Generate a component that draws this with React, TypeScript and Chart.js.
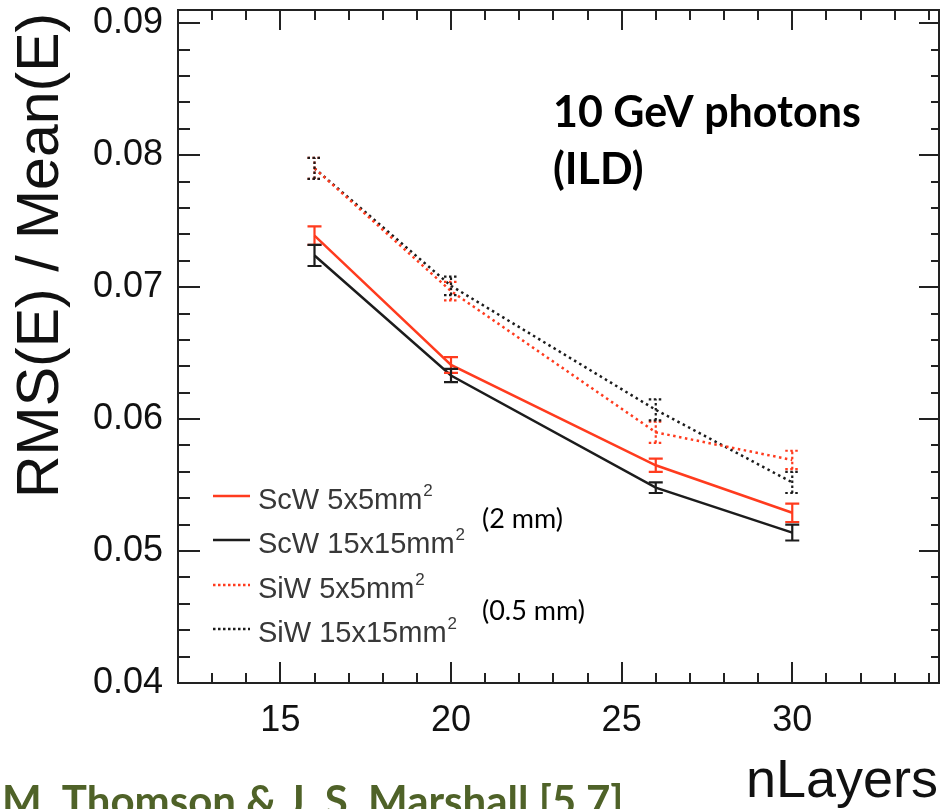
import React, { useEffect, useRef } from 'react';
import { Chart, registerables } from 'chart.js';

Chart.register(...registerables);

// ---------- data ----------
const nLayers = [16, 20, 26, 30];

const scw5 = [0.0739, 0.0641, 0.0565, 0.0529];
const scw5Err = [0.0007, 0.0006, 0.0005, 0.0007];

const scw15 = [0.0724, 0.0633, 0.0548, 0.0514];
const scw15Err = [0.0008, 0.0005, 0.0004, 0.0006];

const siw5 = [0.079, 0.0697, 0.059, 0.0569];
const siw5Err = [0.0008, 0.0007, 0.0008, 0.0007];

const siw15 = [0.079, 0.0701, 0.0607, 0.0552];
const siw15Err = [0.0008, 0.0007, 0.0008, 0.0008];

const seriesLabels = ['ScW 5x5mm²', 'ScW 15x15mm²', 'SiW 5x5mm²', 'SiW 15x15mm²'];

const xTicks = [15, 20, 25, 30];
const yTicks = [0.04, 0.05, 0.06, 0.07, 0.08, 0.09];
const xRange = [12, 34.3];
const yRange = [0.04, 0.091];
const xMinorStep = 1;
const yMinorStep = 0.002;

const yTitle = 'RMS(E) / Mean(E)';
const xTitle = 'nLayers';
const noteLines = ['10 GeV photons', '(ILD)'];
const thicknessNotes = ['(2 mm)', '(0.5 mm)'];
const credit = 'M. Thomson & J. S. Marshall [5,7]';

const RED = '#ff3b1e';
const BLACK = '#1c1c1c';
const AXIS = '#222222';

const makeData = (vals: number[]) => nLayers.map((x, i) => ({ x, y: vals[i] }));

const annotate = {
  id: 'annotate',
  afterDatasetsDraw(chart: any) {
    const ctx = chart.ctx;
    const xs = chart.scales.x;
    const ys = chart.scales.y;
    // error bars
    chart.data.datasets.forEach((ds: any) => {
      ctx.save();
      ctx.strokeStyle = ds.borderColor;
      ctx.lineWidth = ds.borderDash.length ? 2.2 : 2.2;
      ctx.setLineDash(ds.borderDash.length ? [2.5, 2.5] : []);
      ds.data.forEach((p: any, i: number) => {
        const px = xs.getPixelForValue(p.x);
        const y1 = ys.getPixelForValue(p.y - ds.err[i]);
        const y2 = ys.getPixelForValue(p.y + ds.err[i]);
        ctx.beginPath();
        ctx.moveTo(px, y1);
        ctx.lineTo(px, y2);
        ctx.moveTo(px - 7, y1);
        ctx.lineTo(px + 7, y1);
        ctx.moveTo(px - 7, y2);
        ctx.lineTo(px + 7, y2);
        ctx.stroke();
      });
      ctx.restore();
    });
  },
  afterDraw(chart: any) {
    const ctx = chart.ctx;
    const area = chart.chartArea;
    const xs = chart.scales.x;
    const ys = chart.scales.y;
    ctx.save();
    // frame
    ctx.strokeStyle = AXIS;
    ctx.lineWidth = 2;
    ctx.setLineDash([]);
    ctx.strokeRect(area.left, area.top, area.right - area.left, area.bottom - area.top);

    // x ticks (bottom and top, inside)
    ctx.beginPath();
    for (let v = Math.ceil(xs.min); v <= xs.max + 1e-9; v += xMinorStep) {
      const px = Math.round(xs.getPixelForValue(v));
      const major = xTicks.includes(v);
      ctx.moveTo(px, area.bottom);
      ctx.lineTo(px, area.bottom - (major ? 21 : 10));
      ctx.moveTo(px, area.top);
      ctx.lineTo(px, area.top + (major ? 20 : 10));
    }
    // y ticks (left and right, inside)
    const nMinor = Math.round((ys.max - ys.min) / yMinorStep);
    for (let k = 0; k <= nMinor; k++) {
      const v = ys.min + k * yMinorStep;
      if (v > ys.max + 1e-9) break;
      const py = Math.round(ys.getPixelForValue(v));
      const major = yTicks.some((t) => Math.abs(t - v) < 1e-7);
      ctx.moveTo(area.left, py);
      ctx.lineTo(area.left + (major ? 22 : 12), py);
      ctx.moveTo(area.right, py);
      ctx.lineTo(area.right - (major ? 20 : 8), py);
    }
    ctx.stroke();

    // axis titles
    ctx.fillStyle = '#111';
    ctx.font = '59px "Liberation Sans", Arial, sans-serif';
    ctx.textAlign = 'left';
    ctx.textBaseline = 'alphabetic';
    ctx.save();
    ctx.translate(58, 498);
    ctx.rotate(-Math.PI / 2);
    ctx.fillText(yTitle, 0, 0);
    ctx.restore();

    ctx.font = '54px "Liberation Sans", Arial, sans-serif';
    ctx.textAlign = 'right';
    ctx.fillText(xTitle, 938, 797);

    // legend
    const rowBase = [509, 553, 598, 642];
    chart.data.datasets.forEach((ds: any, i: number) => {
      const b = rowBase[i];
      ctx.strokeStyle = ds.borderColor;
      ctx.lineWidth = 2.5;
      ctx.setLineDash(ds.borderDash.length ? [2.5, 2.5] : []);
      ctx.beginPath();
      ctx.moveTo(213, b - 13);
      ctx.lineTo(250, b - 13);
      ctx.stroke();
      ctx.setLineDash([]);
      const label: string = ds.label;
      const main = label.replace('²', '');
      ctx.fillStyle = '#383838';
      ctx.textAlign = 'left';
      ctx.font = '29px "Liberation Sans", Arial, sans-serif';
      ctx.fillText(main, 258, b);
      const w = ctx.measureText(main).width;
      ctx.font = '17px "Liberation Sans", Arial, sans-serif';
      ctx.fillText('2', 258 + w + 1, b - 13);
    });

    // notes
    ctx.fillStyle = '#000';
    ctx.textAlign = 'left';
    ctx.font = 'bold 43px Lato, "Open Sans", sans-serif';
    ctx.fillText(noteLines[0], 553, 127);
    ctx.fillText(noteLines[1], 553, 184);

    ctx.font = '27px Lato, "Open Sans", sans-serif';
    ctx.fillText(thicknessNotes[0], 482, 528);
    ctx.fillText(thicknessNotes[1], 482, 620);

    ctx.fillStyle = '#4f6228';
    ctx.font = 'bold 42px Lato, "Open Sans", sans-serif';
    ctx.fillText(credit, 2, 816);
    ctx.restore();
  },
};

export default function App() {
  const ref = useRef<HTMLCanvasElement | null>(null);
  useEffect(() => {
    if (!ref.current) return;
    const mk = (i: number, vals: number[], err: number[], color: string, dotted: boolean) => ({
      label: seriesLabels[i],
      data: makeData(vals),
      err,
      borderColor: color,
      backgroundColor: color,
      borderWidth: dotted ? 2.5 : 2.5,
      borderDash: dotted ? [2.5, 3.5] : [],
      pointRadius: 0,
      tension: 0,
      fill: false,
    });
    const chart = new Chart(ref.current, {
      type: 'line',
      data: {
        datasets: [
          mk(0, scw5, scw5Err, RED, false),
          mk(1, scw15, scw15Err, BLACK, false),
          mk(2, siw5, siw5Err, RED, true),
          mk(3, siw15, siw15Err, BLACK, true),
        ] as any,
      },
      options: {
        animation: false,
        responsive: false,
        maintainAspectRatio: false,
        layout: { padding: { left: 0, top: 10, right: 3, bottom: 0 } },
        plugins: { legend: { display: false }, tooltip: { enabled: false } },
        scales: {
          x: {
            type: 'linear',
            min: xRange[0],
            max: xRange[1],
            grid: { display: false, drawTicks: false },
            border: { display: false },
            afterBuildTicks: (s: any) => {
              s.ticks = xTicks.map((v) => ({ value: v }));
            },
            afterFit: (s: any) => {
              s.height = 126;
              s.paddingLeft = 0;
              s.paddingRight = 0;
            },
            ticks: {
              padding: 16,
              color: '#111',
              font: { family: '"Liberation Sans", Arial, sans-serif', size: 36 },
              callback: (v: any) => String(v),
              maxRotation: 0,
              autoSkip: false,
            },
          },
          y: {
            type: 'linear',
            min: yRange[0],
            max: yRange[1],
            grid: { display: false, drawTicks: false },
            border: { display: false },
            afterBuildTicks: (s: any) => {
              s.ticks = yTicks.map((v) => ({ value: v }));
            },
            afterFit: (s: any) => {
              s.width = 178;
              s.paddingTop = 0;
              s.paddingBottom = 0;
            },
            ticks: {
              padding: 15,
              color: '#111',
              font: { family: '"Liberation Sans", Arial, sans-serif', size: 36 },
              callback: (v: any) => Number(v).toFixed(2),
              autoSkip: false,
            },
          },
        },
      },
      plugins: [annotate],
    });
    return () => chart.destroy();
  }, []);
  return (
    <canvas
      ref={ref}
      width={942}
      height={809}
      style={{ position: 'fixed', left: 0, top: 0, width: 942, height: 809, display: 'block', background: '#fff' }}
    />
  );
}
